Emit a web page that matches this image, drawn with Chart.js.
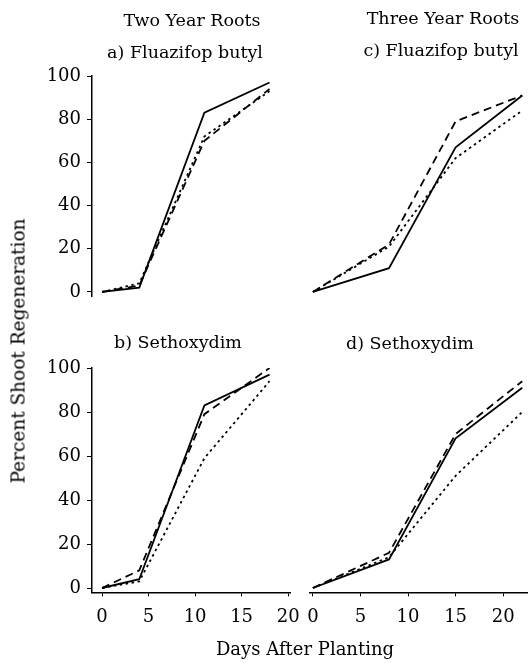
<!DOCTYPE html>
<html>
<head>
<meta charset="utf-8">
<script src="https://cdn.jsdelivr.net/npm/chart.js@4"></script>
<style>
  body { margin: 0; background: #fff; }
  #wrap { position: relative; width: 528px; height: 663px; font-family: "DejaVu Serif", serif; color: #000; }
  #wrap canvas { position: absolute; left: 0; top: 0; }
  .t { position: absolute; font-size: 17.5px; white-space: nowrap; transform: translate(-50%, -50%); }
</style>
</head>
<body>
<div id="wrap">
  <canvas id="pa" width="528" height="663"></canvas>
  <canvas id="pb" width="528" height="663"></canvas>
  <canvas id="pc" width="528" height="663"></canvas>
  <canvas id="pd" width="528" height="663"></canvas>
  <div class="t" style="left:192px;top:20px">Two Year Roots</div>
  <div class="t" style="left:443px;top:18px">Three Year Roots</div>
  <div class="t" style="left:185px;top:52px">a) Fluazifop butyl</div>
  <div class="t" style="left:441px;top:50px">c) Fluazifop butyl</div>
  <div class="t" style="left:178px;top:342px">b) Sethoxydim</div>
  <div class="t" style="left:410px;top:343px">d) Sethoxydim</div>
  <div class="t" style="left:18px;top:351px;font-size:18.5px;transform:translate(-50%,-50%) rotate(-90deg)">Percent Shoot Regeneration</div>
  <div class="t" style="left:305px;top:648px;font-size:18px">Days After Planting</div>
</div>
<script>
// days after planting
var daysTwo = [0, 4, 11, 18];
var daysThree = [0, 8, 15, 22];

// a) two year roots, fluazifop butyl
var aSolid  = [0, 2, 83, 97];
var aDashed = [0, 3, 70, 94];
var aDotted = [0, 4, 72, 93];
// b) two year roots, sethoxydim
var bSolid  = [0, 4, 83, 97];
var bDashed = [0, 8, 79, 100];
var bDotted = [0, 3, 59, 94];
// c) three year roots, fluazifop butyl
var cSolid  = [0, 11, 67, 91];
var cDashed = [0, 22, 79, 91];
var cDotted = [0, 21, 62, 84];
// d) three year roots, sethoxydim
var dSolid  = [0, 13, 68, 91];
var dDashed = [0, 16, 70, 94];
var dDotted = [0, 14, 51, 80];

var xTicks = [0, 5, 10, 15, 20];
var yTicks = [0, 20, 40, 60, 80, 100];

var W = 528, H = 663;
var Y_W = 92;  // width kept for y tick labels
var X_H = 34;  // height kept for x tick labels
var ink = '#000';
var tickFont = { family: 'DejaVu Serif', size: 18 };

function pts(days, vals) {
  return days.map(function (d, i) { return { x: d, y: vals[i] }; });
}

function line(days, vals, dash) {
  return {
    data: pts(days, vals),
    borderColor: ink,
    borderWidth: 1.8,
    borderDash: dash,
    pointRadius: 0,
    tension: 0,
    fill: false
  };
}

function panel(id, days, solid, dashed, dotted, box, xr, showX, showY) {
  new Chart(document.getElementById(id), {
    type: 'line',
    data: {
      datasets: [
        line(days, solid, []),
        line(days, dashed, [8, 5]),
        line(days, dotted, [2.5, 3.5])
      ]
    },
    options: {
      responsive: false,
      animation: false,
      layout: {
        padding: {
          left: box.l - (showY ? Y_W : 0),
          top: box.t,
          right: W - box.r,
          bottom: H - box.b - (showX ? X_H : 0)
        }
      },
      plugins: { legend: { display: false }, tooltip: { enabled: false } },
      scales: {
        x: {
          type: 'linear',
          min: xr[0],
          max: xr[1],
          display: showX,
          afterBuildTicks: function (s) { s.ticks = xTicks.map(function (v) { return { value: v }; }); },
          afterFit: function (s) { s.height = showX ? X_H : 0; },
          grid: { drawOnChartArea: false, drawTicks: true, tickLength: 4, color: ink },
          border: { display: true, color: ink, width: 1.5 },
          ticks: { font: tickFont, color: ink, padding: 10, maxRotation: 0 }
        },
        y: {
          type: 'linear',
          min: -2,
          max: 100,
          display: showY,
          afterBuildTicks: function (s) { s.ticks = yTicks.map(function (v) { return { value: v }; }); },
          afterFit: function (s) { s.width = showY ? Y_W : 0; },
          grid: { drawOnChartArea: false, drawTicks: true, tickLength: 5, color: ink },
          border: { display: true, color: ink, width: 1.5 },
          ticks: { font: tickFont, color: ink, padding: 6 }
        }
      }
    }
  });
}

var leftX = [-1.08, 20.2], rightX = [-0.3, 22.5];
panel('pa', daysTwo, aSolid, aDashed, aDotted, { l: 92, r: 290, t: 76, b: 296.3 }, leftX, false, true);
panel('pb', daysTwo, bSolid, bDashed, bDotted, { l: 92, r: 290, t: 368, b: 592.4 }, leftX, true, true);
panel('pc', daysThree, cSolid, cDashed, cDotted, { l: 310, r: 527, t: 76, b: 296.3 }, rightX, false, false);
panel('pd', daysThree, dSolid, dDashed, dDotted, { l: 310, r: 527, t: 368, b: 592.4 }, rightX, true, false);
</script>
</body>
</html>
